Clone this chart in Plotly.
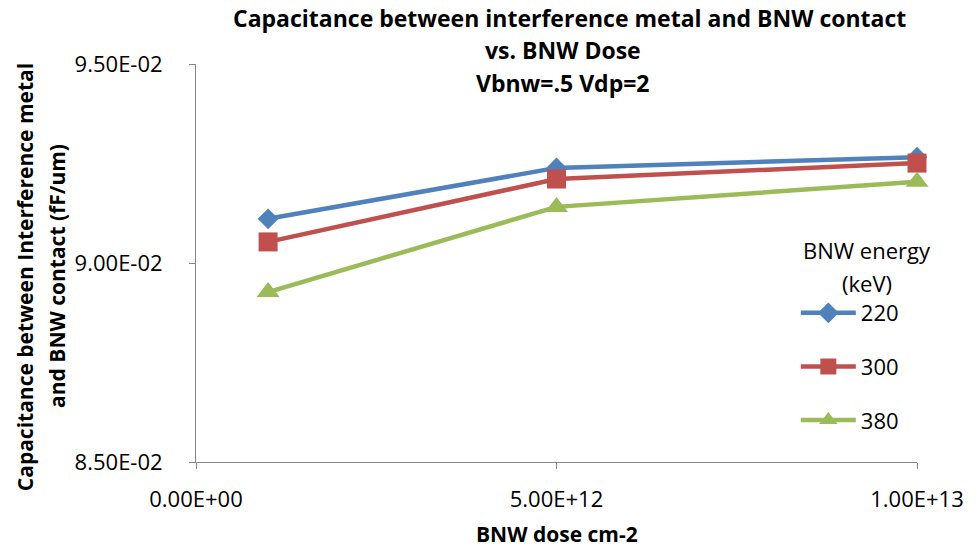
import plotly.graph_objects as go

dose = [1e12, 5e12, 1e13]
series_names = ["220", "300", "380"]
cap_220 = [0.09111, 0.09239, 0.09266]
cap_300 = [0.09053, 0.09211, 0.09251]
cap_380 = [0.08927, 0.09141, 0.09204]
x_ticks = [0, 5e12, 1e13]
x_tick_labels = ["0.00E+00", "5.00E+12", "1.00E+13"]
y_ticks = [0.085, 0.09, 0.095]
y_tick_labels = ["8.50E-02", "9.00E-02", "9.50E-02"]
title_lines = ["Capacitance between interference metal and BNW contact", "vs. BNW Dose", "Vbnw=.5 Vdp=2"]
y_title_lines = ["Capacitance between Interference metal", "and BNW contact (fF/um)"]
x_title = "BNW dose cm-2"
legend_title_lines = ["BNW energy", "(keV)"]

colors = ["#4F81BD", "#C0504D", "#9BBB59"]
symbols = ["diamond", "square", "triangle-up"]
sizes = [16, 19, 20]
FONT = "Open Sans"
W, H = 976, 550
L, R, T, B = 196, 54, 64, 88
PW, PH = W - L - R, H - T - B

fig = go.Figure()
for i, (name, vals) in enumerate(zip(series_names, [cap_220, cap_300, cap_380])):
    fig.add_trace(go.Scatter(
        x=dose, y=vals, name=name, mode="lines+markers",
        legendgroup=name, cliponaxis=False,
        line=dict(color=colors[i], width=4.5),
        marker=dict(symbol=symbols[i], size=sizes[i], color=colors[i]),
    ))

# helpers: pixel position in the figure -> paper coordinates (plot-area based)
def pap_x(p):
    return (p - L) / PW

def pap_y(p):
    return (H - B - p) / PH

def ann(text, xp, yp, size, angle=0):
    return dict(text=text, x=pap_x(xp), y=pap_y(yp), xref="paper", yref="paper",
                xanchor="center", yanchor="middle", showarrow=False, textangle=angle,
                font=dict(family=FONT, size=size, color="black"))

annotations = []
for txt, yy, xx in zip(title_lines, [18, 50, 83], [572, 566, 566]):
    annotations.append(ann("<b>" + txt + "</b>", xx, yy, 23))
for txt, xx, yy in zip(y_title_lines, [24, 56], [277, 276]):
    annotations.append(ann("<b>" + txt + "</b>", xx, yy, 21, -90))
annotations.append(ann("<b>" + x_title + "</b>", 560, 534, 21))
for txt, yy in zip(legend_title_lines, [250, 283]):
    annotations.append(ann(txt, 872, yy, 22))

fig.update_layout(
    width=W, height=H,
    margin=dict(l=L, r=R, t=T, b=B),
    paper_bgcolor="white", plot_bgcolor="white",
    font=dict(family=FONT, size=22, color="black"),
    annotations=annotations,
    legend=dict(
        x=pap_x(800), y=pap_y(292), xanchor="left", yanchor="top",
        bgcolor="rgba(0,0,0,0)",
        font=dict(size=22),
        tracegroupgap=22,
        itemwidth=55,
    ),
    showlegend=True,
)

fig.update_xaxes(
    range=[0, 1e13], tickvals=x_ticks, ticktext=x_tick_labels,
    showgrid=False, zeroline=False, showline=True, linecolor="#868686", linewidth=1,
    ticks="outside", ticklen=6, tickcolor="#868686", tickfont=dict(size=22),
    ticklabelstandoff=12,
)
fig.update_yaxes(
    range=[0.085, 0.095], tickvals=y_ticks, ticktext=y_tick_labels,
    showgrid=False, zeroline=False, showline=True, linecolor="#868686", linewidth=1,
    ticks="outside", ticklen=6, tickcolor="#868686", tickfont=dict(size=22),
    ticklabelstandoff=22,
)

fig.write_html("out.html")
